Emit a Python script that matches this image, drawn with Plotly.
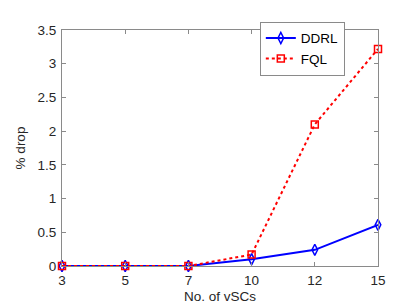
import plotly.graph_objects as go

categories = ["3", "5", "7", "10", "12", "15"]
ddrl = [0, 0, 0, 0.1, 0.24, 0.61]
fql = [0, 0, 0, 0.17, 2.1, 3.22]
y_ticks = [0, 0.5, 1, 1.5, 2, 2.5, 3, 3.5]
y_ticklabels = ["0", "0.5", "1", "1.5", "2", "2.5", "3", "3.5"]

font = "Liberation Sans, Arial, sans-serif"
axis_col = "#8a8a8a"
text_col = "#262626"

fig = go.Figure()
fig.add_trace(go.Scatter(
    x=categories, y=ddrl, name="DDRL", mode="lines+markers",
    line=dict(color="#0000ff", width=2),
    marker=dict(symbol="diamond-tall-open", size=8, color="#0000ff", line=dict(width=1.5)),
    cliponaxis=False,
))
fig.add_trace(go.Scatter(
    x=categories, y=fql, name="FQL", mode="lines+markers",
    line=dict(color="#ff0000", width=2, dash="dot"),
    marker=dict(symbol="square-open", size=7, color="#ff0000", line=dict(width=1.5)),
    cliponaxis=False,
))

fig.update_layout(
    width=408, height=306,
    margin=dict(l=53, r=38, t=22, b=39),
    paper_bgcolor="white", plot_bgcolor="white",
    font=dict(family=font, size=13.5, color=text_col),
    showlegend=True,
    legend=dict(
        x=0.895, y=1.035, xanchor="right", yanchor="top",
        bordercolor=axis_col, borderwidth=1, bgcolor="white",
        font=dict(size=13.5, color="#000000"),
        tracegroupgap=0, itemwidth=30,
    ),
)
fig.update_xaxes(
    type="category", range=[0, 5],
    showline=True, linecolor=axis_col, linewidth=1, mirror="ticks",
    ticks="inside", ticklen=4, tickcolor=axis_col,
    showgrid=False, zeroline=False, ticklabelstandoff=2,
    title=dict(text="No. of vSCs", font=dict(size=13.5, color=text_col), standoff=4),
    tickfont=dict(size=13.5, color=text_col),
)
fig.update_yaxes(
    range=[0, 3.5], tickvals=y_ticks, ticktext=y_ticklabels,
    showline=True, linecolor=axis_col, linewidth=1, mirror="ticks",
    ticks="inside", ticklen=4, tickcolor=axis_col,
    showgrid=False, zeroline=False, ticklabelstandoff=2,
    title=dict(text="% drop", font=dict(size=13.5, color=text_col), standoff=8),
    tickfont=dict(size=13.5, color=text_col),
)

fig.write_html("out.html")
